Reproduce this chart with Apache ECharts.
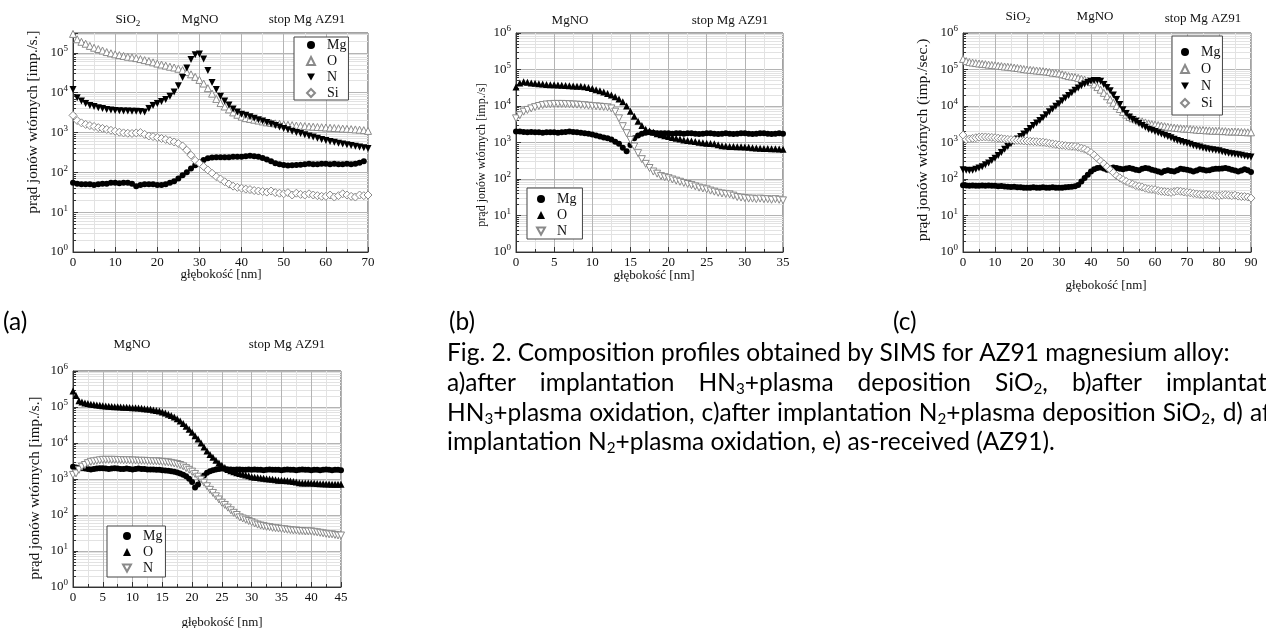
<!DOCTYPE html>
<html>
<head>
<meta charset="utf-8">
<script src="https://cdn.jsdelivr.net/npm/echarts@6/dist/echarts.min.js"></script>
<style>
html,body{margin:0;padding:0;background:#fff;}
#c{width:1266px;height:628px;}
</style>
</head>
<body>
<div id="c"></div>
<script>
// ---------------- DATA ----------------
// (a) after implantation HN3 + plasma deposition SiO2
const depthA = [0,1,2,3,4,5,6,7,8,9,10,11,12,13,14,15,16,17,18,19,20,21,22,23,24,25,26,27,28,29,30,31,32,33,34,35,36,37,38,39,40,41,42,43,44,45,46,47,48,49,50,51,52,53,54,55,56,57,58,59,60,61,62,63,64,65,66,67,68,69,70];
const aMg = [55,52,50,50,50,48,50,52,52,55, 55,53,55,55,52,45,48,50,50,50, 48,48,50,55,60,70,85,100,125,150, 180,205,225,235,240,240,238,240,245,245, 248,255,260,255,245,230,210,190,170,160, 152,148,150,152,155,160,165,160,160,165, 165,160,165,160,160,165,160,165,175,190, null];
const aO = [3.0e5,2.2e5,1.9e5,1.7e5,1.5e5,1.35e5,1.25e5,1.15e5,1.05e5,9.8e4, 9.2e4,8.8e4,8.4e4,8.0e4,7.7e4,7.4e4,7.0e4,6.6e4,6.2e4,5.8e4, 5.4e4,5.1e4,4.8e4,4.5e4,4.3e4,4.0e4,3.7e4,3.3e4,2.9e4,2.5e4, 2.1e4,1.7e4,1.3e4,9.5e3,7.0e3,5.5e3,4.5e3,3.8e3,3.2e3,2.8e3, 2.5e3,2.3e3,2.2e3,2.1e3,2.0e3,1.9e3,1.8e3,1.75e3,1.7e3,1.65e3, 1.6e3,1.57e3,1.54e3,1.5e3,1.48e3,1.45e3,1.42e3,1.4e3,1.38e3,1.36e3, 1.34e3,1.32e3,1.3e3,1.28e3,1.26e3,1.24e3,1.22e3,1.2e3,1.18e3,1.15e3, 1.1e3];
const aN = [1.2e4,7.5e3,6.2e3,5.4e3,4.8e3,4.5e3,4.2e3,4.0e3,3.8e3,3.7e3, 3.6e3,3.55e3,3.5e3,3.5e3,3.45e3,3.45e3,3.4e3,3.3e3,4.0e3,4.8e3, 5.4e3,6.0e3,6.8e3,8.2e3,1.05e4,1.5e4,2.4e4,4.2e4,6.8e4,9.0e4, 9.4e4,7.0e4,3.6e4,1.8e4,1.2e4,8.2e3,6.2e3,4.9e3,3.9e3,3.3e3, 2.9e3,2.7e3,2.5e3,2.3e3,2.1e3,1.95e3,1.8e3,1.65e3,1.5e3,1.38e3, 1.27e3,1.17e3,1.08e3,1.0e3,940,880,820,770,720,670, 630,600,570,540,515,495,475,455,435,415, 395];
const aSi = [2.7e3,2.0e3,1.75e3,1.6e3,1.5e3,1.42e3,1.33e3,1.27e3,1.2e3,1.14e3, 1.08e3,1.02e3,980,960,950,980,1.0e3,900,820,790, 750,710,670,620,580,530,460,360,270,200, 170,140,115,95,78,68,58,51,45,42, 40,38,37,35,34,33,32,34,31,30, 29,31,27,30,28,27,29,27,26,25, 25,27,24,26,29,27,25,24,27,26, 27];

// (b) after implantation HN3 + plasma oxidation
const depthB = [0,0.5,1,1.5,2,2.5,3,3.5,4,4.5,5,5.5,6,6.5,7,7.5,8,8.5,9,9.5,10,10.5,11,11.5,12,12.5,13,13.5,14,14.5,15,15.5,16,16.5,17,17.5,18,18.5,19,19.5,20,20.5,21,21.5,22,22.5,23,23.5,24,24.5,25,25.5,26,26.5,27,27.5,28,28.5,29,29.5,30,30.5,31,31.5,32,32.5,33,33.5,34,34.5,35];
const bMg = [2.0e3,2.0e3,1.95e3,1.9e3,1.95e3,1.9e3,1.9e3,1.85e3,1.9e3,1.9e3, 1.9e3,1.85e3,1.9e3,1.95e3,2.0e3,1.95e3,1.9e3,1.85e3,1.8e3,1.75e3, 1.65e3,1.55e3,1.45e3,1.38e3,1.3e3,1.2e3,1.05e3,920,720,580, 850,1.3e3,1.55e3,1.75e3,1.85e3,1.9e3,1.85e3,1.8e3,1.8e3, 1.8e3,1.78e3,1.75e3,1.78e3,1.8e3,1.75e3,1.78e3,1.8e3,1.75e3,1.72e3, 1.75e3,1.78e3,1.8e3,1.75e3,1.72e3,1.75e3,1.78e3,1.75e3,1.72e3,1.75e3, 1.8e3,1.78e3,1.75e3,1.72e3,1.75e3,1.78e3,1.8e3,1.75e3,1.72e3,1.75e3, 1.78e3,1.75e3];
const bO = [3.3e4,4.3e4,4.6e4,4.5e4,4.3e4,4.2e4,4.1e4,4.0e4,3.9e4,3.85e4, 3.8e4,3.75e4,3.7e4,3.65e4,3.6e4,3.55e4,3.5e4,3.45e4,3.35e4,3.2e4, 3.0e4,2.8e4,2.6e4,2.4e4,2.2e4,2.0e4,1.8e4,1.55e4,1.3e4,1.0e4, 7.2e3,5.2e3,3.8e3,2.9e3,2.3e3,2.05e3,1.9e3,1.75e3,1.62e3,1.52e3, 1.45e3,1.38e3,1.3e3,1.24e3,1.18e3,1.14e3,1.1e3,1.06e3,1.02e3,990, 960,940,920,870,820,800,780,775,770,760, 750,740,720,710,700,690,680,675,670,660, 650];
const bN = [4.6e3,5.6e3,7.0e3,7.8e3,8.6e3,9.3e3,1.0e4,1.06e4,1.1e4,1.12e4, 1.14e4,1.14e4,1.14e4,1.13e4,1.12e4,1.1e4,1.09e4,1.07e4,1.05e4,1.02e4, 1.0e4,9.8e3,9.6e3,9.4e3,9.2e3,8.6e3,7.0e3,4.6e3,2.8e3,1.8e3, 1.18e3,780,510,350,260,200,160,140,120,112, 105,97,90,84,78,73,68,63,58,55, 52,48,45,42,40,39,38,35,32,31, 30,29,29,28,29,28,28,27,28,27, 26];

// (c) after implantation N2 + plasma deposition SiO2
const depthC = [0,1,2,3,4,5,6,7,8,9,10,11,12,13,14,15,16,17,18,19,20,21,22,23,24,25,26,27,28,29,30,31,32,33,34,35,36,37,38,39,40,41,42,43,44,45,46,47,48,49,50,51,52,53,54,55,56,57,58,59,60,61,62,63,64,65,66,67,68,69,70,71,72,73,74,75,76,77,78,79,80,81,82,83,84,85,86,87,88,89,90];
const cMg = [67,66,65,66,65,65,66,65,66,65, 65,63,64,62,61,60,61,59,59,58, 58,58,59,58,58,59,58,58,59,58, 58,58,59,60,61,63,69,86,107,131, 160,185,200,205,195,180,195,205,200,190, 185,195,200,190,180,175,190,200,195,180, 170,160,150,165,175,165,160,175,190,185, 180,170,160,170,185,180,170,175,185,190, 190,195,200,190,180,170,160,170,185,175, 155];
const cO = [1.95e5,1.7e5,1.6e5,1.55e5,1.5e5,1.46e5,1.43e5,1.4e5,1.36e5,1.33e5, 1.3e5,1.27e5,1.24e5,1.21e5,1.19e5,1.16e5,1.13e5,1.1e5,1.07e5,1.03e5, 1.0e5,9.8e4,9.6e4,9.4e4,9.2e4,9.0e4,8.8e4,8.5e4,8.2e4,8.0e4, 7.8e4,7.4e4,7.0e4,6.6e4,6.4e4,6.2e4,5.9e4,5.6e4,5.3e4,4.9e4, 4.5e4,3.9e4,3.3e4,2.8e4,2.3e4,1.85e4,1.5e4,1.22e4,1.0e4,8.3e3, 6.9e3,5.8e3,5.0e3,4.6e3,4.3e3,4.0e3,3.8e3,3.55e3,3.35e3,3.2e3, 3.1e3,3.0e3,2.9e3,2.8e3,2.7e3,2.6e3,2.55e3,2.5e3,2.45e3,2.4e3, 2.4e3,2.35e3,2.3e3,2.25e3,2.2e3,2.2e3,2.15e3,2.15e3,2.1e3,2.1e3, 2.1e3,2.05e3,2.05e3,2.0e3,2.0e3,2.0e3,1.98e3,1.95e3,1.93e3,1.9e3, 1.9e3];
const cN = [180,175,170,175,185,200,215,245,275,320, 370,440,530,650,780,920,1.06e3,1.25e3,1.45e3,1.7e3, 2.0e3,2.4e3,2.9e3,3.4e3,4.0e3,4.8e3,5.8e3,7.0e3,8.3e3,9.8e3, 1.16e4,1.4e4,1.65e4,1.95e4,2.3e4,2.7e4,3.1e4,3.6e4,4.0e4,4.4e4, 4.8e4,5.0e4,5.0e4,4.8e4,3.9e4,3.2e4,2.6e4,2.0e4,1.5e4,1.1e4, 7.9e3,6.2e3,5.0e3,4.3e3,3.8e3,3.3e3,2.9e3,2.6e3,2.3e3,2.15e3, 2.0e3,1.85e3,1.7e3,1.58e3,1.46e3,1.34e3,1.23e3,1.14e3,1.06e3,1.0e3, 960,890,830,790,750,710,670,650,630,610, 590,560,530,510,490,475,460,445,430,415, 400];
const cSi = [1.6e3,1.2e3,1.25e3,1.3e3,1.35e3,1.4e3,1.42e3,1.42e3,1.4e3,1.38e3, 1.35e3,1.32e3,1.28e3,1.25e3,1.22e3,1.2e3,1.17e3,1.15e3,1.13e3,1.1e3, 1.1e3,1.08e3,1.06e3,1.05e3,1.03e3,1.02e3,990,950,920,890, 860,840,820,800,790,780,740,700,660,600, 530,450,370,310,260,215,180,150,123,108, 96,86,78,72,66,63,60,56,53,52, 51,48,46,45,44,43,45,47,46,44, 43,42,40,39,38,37,38,37,36,35, 35,36,37,36,35,36,34,33,33,32, 30];

// (d) after implantation N2 + plasma oxidation
const depthD = [0,0.5,1,1.5,2,2.5,3,3.5,4,4.5,5,5.5,6,6.5,7,7.5,8,8.5,9,9.5,10,10.5,11,11.5,12,12.5,13,13.5,14,14.5,15,15.5,16,16.5,17,17.5,18,18.5,19,19.5,20,20.5,21,21.5,22,22.5,23,23.5,24,24.5,25,25.5,26,26.5,27,27.5,28,28.5,29,29.5,30,30.5,31,31.5,32,32.5,33,33.5,34,34.5,35,35.5,36,36.5,37,37.5,38,38.5,39,39.5,40,40.5,41,41.5,42,42.5,43,43.5,44,44.5,45];
const dMg = [2.2e3,2.1e3,2.0e3,2.0e3,1.95e3,1.9e3,1.85e3,1.9e3,1.95e3,2.0e3, 2.0e3,1.95e3,1.9e3,1.95e3,2.0e3,1.95e3,1.9e3,1.9e3,1.95e3,1.9e3, 1.85e3,1.9e3,1.95e3,1.9e3,1.9e3,1.85e3,1.85e3,1.85e3,1.8e3,1.8e3, 1.75e3,1.72e3,1.7e3,1.65e3,1.6e3,1.52e3,1.43e3,1.32e3,1.2e3,1.02e3, 820,580,700,950,1.25e3,1.5e3,1.65e3,1.75e3,1.85e3,1.9e3, 1.95e3, 1.9e3,1.85e3,1.85e3,1.8e3,1.85e3,1.85e3,1.8e3,1.8e3,1.85e3,1.8e3, 1.85e3,1.8e3,1.8e3,1.75e3,1.8e3,1.85e3,1.8e3,1.8e3,1.8e3,1.75e3, 1.8e3,1.85e3,1.8e3,1.8e3,1.75e3,1.8e3,1.85e3,1.8e3,1.8e3,1.75e3, 1.8e3,1.8e3,1.75e3,1.8e3,1.85e3,1.8e3,1.75e3,1.8e3,1.8e3,1.75e3];
const dO = [2.8e5,2.1e5,1.5e5,1.38e5,1.3e5,1.25e5,1.2e5,1.17e5,1.14e5,1.11e5, 1.09e5,1.07e5,1.05e5,1.03e5,1.02e5,1.01e5,1.0e5,9.9e4,9.8e4,9.7e4, 9.6e4,9.5e4,9.4e4,9.2e4,9.0e4,8.8e4,8.6e4,8.3e4,8.0e4,7.7e4, 7.3e4,6.8e4,6.3e4,5.8e4,5.3e4,4.7e4,4.1e4,3.5e4,2.9e4,2.4e4, 2.0e4,1.6e4,1.3e4,1.0e4,7.8e3,6.0e3,4.8e3,4.0e3,3.3e3,2.8e3, 2.4e3,2.1e3,1.85e3,1.7e3,1.6e3,1.5e3,1.43e3,1.36e3,1.3e3,1.23e3, 1.16e3,1.12e3,1.1e3,1.07e3,1.05e3,1.02e3,1.0e3,980,950,930, 920,910,900,880,850,820,790,780,775,770, 770,760,750,740,740,730,730,720,720,720, 710];
const dN = [1.3e3,1.43e3,1.8e3,2.2e3,2.45e3,2.75e3,3.0e3,3.1e3,3.2e3,3.3e3, 3.4e3,3.4e3,3.4e3,3.4e3,3.4e3,3.35e3,3.35e3,3.3e3,3.3e3,3.3e3, 3.25e3,3.25e3,3.2e3,3.2e3,3.2e3,3.15e3,3.15e3,3.1e3,3.1e3,3.05e3, 3.0e3,2.95e3,2.9e3,2.8e3,2.7e3,2.6e3,2.45e3,2.25e3,2.0e3,1.8e3, 1.6e3,1.38e3,1.16e3,960,790,630,500,410,330,270, 220,190,160,135,115,100,86,80,74,68, 63,58,54,51,49,47,46,44,43,42, 41,40,39,38,37,37,36,36,35,35, 35,34,33,32,31,30,29,29,28,27, 27];

// texts
const legendNames = ['Mg','O','N','Si'];
const capLine1 = 'Fig. 2. Composition profiles obtained by SIMS for AZ91 magnesium alloy:';
const capLine2 = ['a)after','implantation','HN{s|3}+plasma','deposition','SiO{s|2},','b)after','implantation'];
const capLine3 = ['HN{s|3}+plasma','oxidation,','c)after','implantation','N{s|2}+plasma','deposition','SiO{s|2},','d)','after'];
const capLine4 = 'implantation N{s|2}+plasma oxidation, e) as-received (AZ91).';

// ---------------- LAYOUT / STYLE ----------------
const SERIF = '"Liberation Serif", "Times New Roman", serif';
const SANS = 'Lato, "Open Sans", sans-serif';
const AX = '#333', MAJ = '#b4b4b4', MIN = '#e2e2e2';
const FILL = '#000', OPEN = '#8a8a8a';
const DOWN_TRI = 'path://M0,0L10,0L5,9Z';

const grids = [
  {left: 73, top: 33, width: 295, height: 219},
  {left: 516, top: 33, width: 267, height: 219},
  {left: 963, top: 33, width: 288, height: 219},
  {left: 73, top: 371, width: 268, height: 216}
];

function supLabel(v) {
  const l = Math.log10(v), e = Math.round(l);
  if (Math.abs(l - e) > 1e-6) return '';
  return '{b|10}{e|' + e + '}';
}

function xAxisCfg(gi, maxV, step) {
  return {
    gridIndex: gi, type: 'value', min: 0, max: maxV, interval: step,
    axisLine: {show: true, onZero: false, lineStyle: {color: AX}},
    axisTick: {show: true, inside: true, length: 5, lineStyle: {color: AX}},
    minorTick: {show: true, splitNumber: 2, length: 3, lineStyle: {color: AX}},
    splitLine: {show: true, lineStyle: {color: MAJ, width: 1}},
    minorSplitLine: {show: true, lineStyle: {color: MIN, width: 1}},
    axisLabel: {margin: 4, fontSize: 13, fontFamily: SERIF, color: '#111'}
  };
}
function yAxisCfg(gi, maxV) {
  return {
    gridIndex: gi, type: 'log', logBase: 10, min: 1, max: maxV,
    axisLine: {show: true, onZero: false, lineStyle: {color: AX}},
    axisTick: {show: true, inside: true, length: 5, lineStyle: {color: AX}},
    minorTick: {show: true, splitNumber: 9, length: 3, lineStyle: {color: AX}},
    splitLine: {show: true, lineStyle: {color: MAJ, width: 1}},
    minorSplitLine: {show: true, lineStyle: {color: MIN, width: 1}},
    axisLabel: {
      margin: 5, formatter: supLabel,
      rich: {
        b: {fontSize: 13, fontFamily: SERIF, color: '#111'},
        e: {fontSize: 9, fontFamily: SERIF, color: '#111', padding: [0, 0, 8, 0], verticalAlign: 'top'}
      }
    }
  };
}

const KIND = {
  dot: {symbol: 'circle', symbolSize: 6, icon: 'circle', itemStyle: {color: FILL, opacity: 1}},
  triUp: {symbol: 'triangle', symbolSize: 7, icon: 'triangle', itemStyle: {color: FILL, opacity: 1}},
  triDown: {symbol: DOWN_TRI, symbolSize: 7, icon: DOWN_TRI, itemStyle: {color: FILL, opacity: 1}},
  triUpOpen: {symbol: 'triangle', symbolSize: 7, icon: 'triangle', itemStyle: {color: '#fff', borderColor: OPEN, borderWidth: 1, opacity: 1}},
  triDownOpen: {symbol: DOWN_TRI, symbolSize: 7, icon: DOWN_TRI, itemStyle: {color: '#fff', borderColor: OPEN, borderWidth: 1, opacity: 1}},
  diaOpen: {symbol: 'diamond', symbolSize: 8, icon: 'diamond', itemStyle: {color: '#fff', borderColor: OPEN, borderWidth: 1, opacity: 1}}
};
function sc(name, gi, depth, vals, kind) {
  if (depth.length !== vals.length) console.warn('length mismatch', name, depth.length, vals.length);
  const k = KIND[kind];
  return {
    type: 'scatter', name: name, xAxisIndex: gi, yAxisIndex: gi,
    symbol: k.symbol, symbolSize: k.symbolSize,
    itemStyle: k.itemStyle, silent: true, animation: false,
    data: depth.map((x, i) => vals[i] == null ? null : [x, vals[i]]).filter(p => p)
  };
}

function legendCfg(prefix, kinds, left, top, padding, itemGap) {
  return {
    data: kinds.map((k, i) => ({name: prefix + legendNames[i], icon: KIND[k].icon})),
    formatter: s => '\u2002' + s.slice(2),
    orient: 'vertical', left: left, top: top, padding: padding, itemGap: itemGap,
    itemWidth: 8, itemHeight: 8, symbolRotate: 0, selectedMode: false,
    backgroundColor: '#fff', borderColor: '#444', borderWidth: 1, borderRadius: 0,
    textStyle: {fontFamily: SERIF, fontSize: 14, color: '#111'}
  };
}

// text helpers
const mctx = document.createElement('canvas').getContext('2d');
const SUBR = 0.62;
function segs(str) {
  const out = []; const re = /\{s\|([^}]*)\}/g; let last = 0, m;
  while ((m = re.exec(str))) {
    if (m.index > last) out.push({t: str.slice(last, m.index), sub: false});
    out.push({t: m[1], sub: true}); last = re.lastIndex;
  }
  if (last < str.length) out.push({t: str.slice(last), sub: false});
  return out;
}
function measure(str, fs) {
  let w = 0;
  for (const s of segs(str)) { mctx.font = (s.sub ? fs * SUBR : fs) + 'px ' + SANS; w += mctx.measureText(s.t).width; }
  return w;
}
function T(x, y, text, size, opt) {
  opt = opt || {};
  const fam = opt.font || SERIF;
  const st = {
    text: text, x: 0, y: 0, fill: opt.color || '#111', font: size + 'px ' + fam,
    align: opt.align || 'center', verticalAlign: 'middle',
    textAlign: opt.align || 'center', textVerticalAlign: 'middle'
  };
  st.rich = {
    s: {fontSize: size * (opt.subr || 0.7), fontFamily: fam, fill: opt.color || '#111', padding: [size * 0.5, 0, 0, 0], verticalAlign: 'bottom'}
  };
  return {type: 'text', x: x, y: y, rotation: opt.rot || 0, z: 100, silent: true, style: st};
}

const capFS = 20 * (1230 - 447) / measure(capLine1, 20);
function capText(x, y, str) { return T(x, y, str, capFS, {font: SANS, align: 'left', color: '#000', subr: SUBR}); }
function justify(words, x0, xLast, y) {
  const ws = words.map(w => measure(w, capFS));
  const n = words.length;
  const tot = ws.slice(0, n - 1).reduce((a, b) => a + b, 0);
  const gap = (xLast - x0 - tot) / (n - 1);
  let x = x0; const els = [];
  words.forEach((w, i) => { els.push(capText(x, y, w)); x += ws[i] + gap; });
  return els;
}

const graphics = [
  // panel headers
  T(128, 20, 'SiO{s|2}', 13), T(200, 20, 'MgNO', 13), T(307, 20, 'stop Mg AZ91', 13),
  T(570, 21, 'MgNO', 13), T(730, 21, 'stop Mg AZ91', 13),
  T(1018, 17, 'SiO{s|2}', 13), T(1095, 17, 'MgNO', 13), T(1203, 19, 'stop Mg AZ91', 13),
  T(132, 345, 'MgNO', 13), T(287, 345, 'stop Mg AZ91', 13),
  // axis titles
  T(221, 275, 'głębokość [nm]', 13), T(654, 276, 'głębokość [nm]', 13),
  T(1106, 286, 'głębokość [nm]', 13), T(222, 623, 'głębokość [nm]', 13),
  T(33, 122, 'prąd jonów wtórnych [imp./s.]', 15, {rot: Math.PI / 2}),
  T(482, 155, 'prąd jonów wtórnych [imp./s]', 12, {rot: Math.PI / 2}),
  T(923, 140, 'prąd jonów wtórnych (imp./sec.)', 15.5, {rot: Math.PI / 2}),
  T(35, 488, 'prąd jonów wtórnych [imp./s.]', 15, {rot: Math.PI / 2}),
  // panel letters
  capText(3, 322, '(a)'), capText(449, 322, '(b)'), capText(893, 322, '(c)'),
  // caption
  capText(447, 353, capLine1)
].concat(justify(capLine2, 447, 1166, 383))
 .concat(justify(capLine3, 447, 1250, 413))
 .concat([capText(447, 442, capLine4)]);

const option = {
  animation: false,
  backgroundColor: '#fff',
  grid: grids.map(g => Object.assign({show: true, borderColor: '#444', borderWidth: 1, backgroundColor: 'rgba(0,0,0,0)', containLabel: false, outerBoundsMode: 'none'}, g)),
  xAxis: [xAxisCfg(0, 70, 10), xAxisCfg(1, 35, 5), xAxisCfg(2, 90, 10), xAxisCfg(3, 45, 5)],
  yAxis: [yAxisCfg(0, Math.pow(10, 5.5)), yAxisCfg(1, 1e6), yAxisCfg(2, 1e6), yAxisCfg(3, 1e6)],
  legend: [
    legendCfg('a-', ['dot', 'triUpOpen', 'triDown', 'diaOpen'], 294, 37, [1, 2, 0, 12], 2),
    legendCfg('b-', ['dot', 'triUp', 'triDownOpen'], 527, 188, [4, 6, 1, 9], 2),
    legendCfg('c-', ['dot', 'triUpOpen', 'triDown', 'diaOpen'], 1172, 36, [9, 2, 5, 8], 3),
    legendCfg('d-', ['dot', 'triUp', 'triDownOpen'], 107, 526, [3, 3, 2, 15], 2)
  ],
  series: [
    sc('a-Mg', 0, depthA, aMg, 'dot'),
    sc('a-O', 0, depthA, aO, 'triUpOpen'),
    sc('a-N', 0, depthA, aN, 'triDown'),
    sc('a-Si', 0, depthA, aSi, 'diaOpen'),
    sc('b-Mg', 1, depthB, bMg, 'dot'),
    sc('b-O', 1, depthB, bO, 'triUp'),
    sc('b-N', 1, depthB, bN, 'triDownOpen'),
    sc('c-Mg', 2, depthC, cMg, 'dot'),
    sc('c-O', 2, depthC, cO, 'triUpOpen'),
    sc('c-N', 2, depthC, cN, 'triDown'),
    sc('c-Si', 2, depthC, cSi, 'diaOpen'),
    sc('d-Mg', 3, depthD, dMg, 'dot'),
    sc('d-O', 3, depthD, dO, 'triUp'),
    sc('d-N', 3, depthD, dN, 'triDownOpen')
  ],
  graphic: graphics
};

const chart = echarts.init(document.getElementById('c'), null, {renderer: 'canvas'});
chart.setOption(option);
</script>
</body>
</html>
